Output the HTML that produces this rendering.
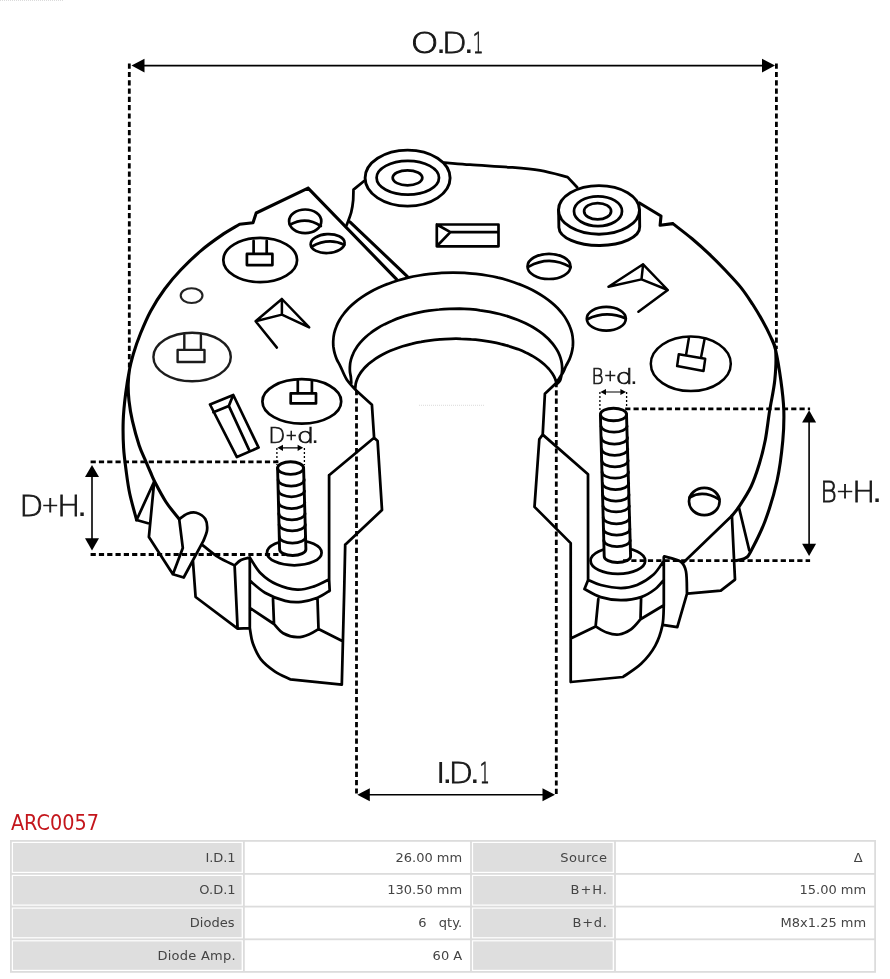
<!DOCTYPE html>
<html lang="en"><head><meta charset="utf-8"><title>ARC0057</title>
<style>
html,body{margin:0;padding:0;background:#fff}
svg{display:block;will-change:transform}
.m{fill:none;stroke:#000;stroke-width:2.75;stroke-linejoin:round;stroke-linecap:round}
.n{fill:none;stroke:#000;stroke-width:2.7;stroke-linejoin:round;stroke-linecap:round}
.w{fill:#fff;stroke:#000;stroke-width:2.9;stroke-linejoin:round}
.d{fill:none;stroke:#000;stroke-width:2.8;stroke-dasharray:5.2 3.1}
.ds{fill:none;stroke:#000;stroke-width:1.3;stroke-dasharray:2 2}
.a{fill:none;stroke:#000;stroke-width:1.6}
.lab{font-family:"DejaVu Sans Light","DejaVu Sans","Liberation Sans",sans-serif;font-weight:200;fill:#1a1a1a;stroke:#1a1a1a;stroke-width:.8}
.lab.s{stroke-width:.7}
.lb{font-family:"DejaVu Sans","Liberation Sans",sans-serif;fill:#1a1a1a}
.t{font-family:"DejaVu Sans","Liberation Sans",sans-serif;font-size:13px;fill:#444}
</style></head><body>
<svg width="890" height="979" viewBox="0 0 890 979">
<rect width="890" height="979" fill="#fff"/>
<defs><filter id="soft" x="0" y="0" width="890" height="810" filterUnits="userSpaceOnUse"><feGaussianBlur stdDeviation="0.4"/></filter></defs>
<g filter="url(#soft)">

<g class="m">
<path d="M148 523.2L136.6 520L154.2 481.5L148.9 537L172.9 574.3L183.7 577.5L203.5 540.7M179.2 519.1L182.8 547.9L172.9 574.3M179.2 519.1C180.5 518.2 184.5 514.8 187.3 513.7C190.2 512.7 193.3 511.9 196.3 512.8C199.3 513.7 203.5 516.2 205.3 519.1C207.1 522 207.4 526.3 207.1 529.9C206.8 533.5 204.1 538.9 203.5 540.7M201.7 544.3C204.4 546.4 212.4 553.4 217.9 556.9C223.4 560.4 231.8 564 234.6 565.4M234.6 565.4C235.7 564.5 238.5 561.3 241 560C243.5 558.7 248.3 557.9 249.8 557.5M234.6 565.4L237.6 628.7M192.9 560.4L195.6 597L237.6 628.7L249.8 628.1M249.8 557.5L249.8 628.1C250.3 630.6 251 638.1 252.8 643.3C254.7 648.5 257.2 654.7 260.9 659.4C264.6 664.1 270.1 668.3 275 671.6C279.9 674.9 287.7 678 290.2 679.3L341.8 684.7L344.2 590.7L345.2 544.7M249.8 557.5C251.7 560.2 256.3 569 260.9 573.5C265.4 578 271 581.9 277.1 584.6C283.2 587.3 291.2 589.4 297.3 589.7C303.4 590 308.3 588.3 313.5 586.6C318.7 584.9 326.2 580.8 328.7 579.6M249.8 580.6C252.3 582.6 259.1 589.3 265 592.7C270.9 596.1 279.1 599.3 285.2 600.8C291.3 602.3 296 602.3 301.4 601.8C306.8 601.3 312.8 599.6 317.5 597.8C322.2 595.9 327.7 591.9 329.7 590.7M329.1 475.2L329.1 579.6L329.7 590.7M273 598.8L274 624C275.5 625.5 279.3 631 283.2 633.2C287.1 635.4 292.9 637 297.3 637.2C301.7 637.4 305.9 635.6 309.4 634.2C312.9 632.9 317 630 318.5 629.1L317.5 598.8M249.8 607.9L274 624M318.5 629.1L342.8 641.2M356.2 390.5L371.9 404.7L374.1 437.7L377.6 440.9L382 510L345.2 544.7M374.1 437.7L329.1 475.2M556.5 382.7L544.9 393.7L542.7 434.6L539.3 439.3L534.5 506.9L570.7 543.1L570.7 682L622.9 677C625.9 674.8 635.7 669 641.1 663.8C646.5 658.6 651.8 652 655.3 645.6C658.8 639.2 661 632.1 662.4 625.4C663.8 618.7 663.6 608.6 663.8 605.2L663.8 557M542.7 434.6L588 474.3L588.1 579.9L584.5 589M588.1 579.9C590.2 580.8 595.2 583.6 600.7 585C606.2 586.4 614.8 588 620.9 588C627 588 631.7 587.2 637.1 585C642.5 582.8 648.8 578.8 653.3 574.8C657.8 570.8 662 563.1 663.8 560.7M584.5 589C587.2 590.4 594.6 595.2 600.7 597.1C606.8 599 614.2 600.1 620.9 600.1C627.6 600.1 635.4 599 641.1 597.1C646.8 595.2 651.5 591.9 655.3 589C659.1 586.1 662.4 581.4 663.8 579.9M598.3 599.1L595.6 626.4C597.5 627.4 602.8 631.1 606.7 632.5C610.6 633.9 614.9 635 618.9 634.5C622.9 634 627.4 631.9 631 629.4C634.6 626.9 638.9 621 640.5 619.3L641.1 598.1M570.7 638.5L595.6 626.4M640.5 619.3L663.8 605.2M356.2 390.5C354.6 388.7 349.3 383.5 346.7 379.5C344.1 375.5 342 369.5 340.4 366.3C338.8 363 338 362 337 359.9C336.1 357.7 335.3 355.5 334.7 353.3C334.1 351.1 333.7 348.9 333.4 346.7C333.2 344.4 333.1 342.2 333.3 340C333.4 337.7 333.7 335.5 334.2 333.3C334.7 331.1 335.4 328.9 336.3 326.7C337.1 324.5 338.2 322.4 339.4 320.3C340.6 318.1 342 316 343.6 314C345.1 312 346.9 310 348.7 308C350.6 306.1 352.7 304.2 354.9 302.4C357.1 300.5 359.4 298.8 361.9 297.1C364.4 295.4 367.1 293.7 369.8 292.2C372.6 290.6 375.5 289.2 378.5 287.8C381.5 286.4 384.6 285.1 387.8 283.9C391 282.6 394.3 281.5 397.7 280.5C401.1 279.5 404.6 278.5 408.2 277.7C411.7 276.8 415.4 276.1 419 275.5C422.7 274.8 426.5 274.3 430.2 273.9C434 273.5 437.8 273.1 441.6 272.9C445.4 272.7 449.3 272.6 453.1 272.6C456.9 272.6 460.8 272.7 464.6 272.9C468.4 273.1 472.2 273.5 476 273.9C479.7 274.3 483.5 274.8 487.2 275.5C490.8 276.1 494.5 276.8 498 277.7C501.6 278.5 505.1 279.5 508.5 280.5C511.9 281.5 515.2 282.6 518.4 283.9C521.6 285.1 524.7 286.4 527.7 287.8C530.7 289.2 533.6 290.6 536.4 292.2C539.1 293.7 541.8 295.4 544.3 297.1C546.8 298.8 549.1 300.5 551.3 302.4C553.5 304.2 555.6 306.1 557.5 308C559.3 310 561.1 312 562.6 314C564.2 316 565.6 318.1 566.8 320.3C568 322.4 569.1 324.5 569.9 326.7C570.8 328.9 571.5 331.1 572 333.3C572.5 335.5 572.8 337.7 572.9 340C573.1 342.2 573 344.4 572.8 346.7C572.5 348.9 572.1 351.1 571.5 353.3C570.9 355.5 570.1 357.7 569.2 359.9C568.2 362 566.7 364.3 565.8 366.3C564.8 368.2 565 368.8 563.5 371.5C562 374.2 557.7 380.8 556.5 382.7M351.3 383C351.2 382 351.1 378.8 350.8 376.8C350.6 374.8 350 373 349.9 371.1C349.8 369.1 349.8 367.2 350 365.3C350.1 363.3 350.5 361.4 351 359.5C351.5 357.6 352.2 355.7 353.1 353.8C353.9 351.9 354.9 350.1 356.1 348.3C357.2 346.4 358.5 344.7 360 342.9C361.5 341.2 363.1 339.5 364.9 337.8C366.6 336.1 368.5 334.5 370.6 333C372.6 331.4 374.8 329.9 377.1 328.5C379.4 327.1 381.8 325.7 384.3 324.4C386.9 323.1 389.5 321.8 392.3 320.7C395 319.5 397.8 318.4 400.8 317.4C403.7 316.4 406.7 315.5 409.8 314.7C412.9 313.8 416.1 313.1 419.3 312.4C422.5 311.7 425.8 311.1 429.1 310.6C432.4 310.2 435.8 309.8 439.2 309.5C442.6 309.1 446 308.9 449.4 308.8C452.8 308.7 456.3 308.7 459.7 308.7C463.1 308.8 466.6 309 470 309.2C473.4 309.5 476.8 309.8 480.1 310.3C483.4 310.7 486.7 311.2 490 311.8C493.2 312.5 496.4 313.2 499.6 314C502.7 314.8 505.8 315.6 508.7 316.6C511.7 317.6 514.6 318.6 517.4 319.7C520.2 320.8 522.9 322 525.5 323.3C528.1 324.6 530.6 325.9 533 327.3C535.3 328.7 537.6 330.2 539.7 331.7C541.8 333.2 543.8 334.8 545.6 336.4C547.5 338 549.2 339.7 550.7 341.5C552.3 343.2 553.7 344.9 554.9 346.7C556.2 348.5 557.3 350.4 558.2 352.2C559.1 354.1 559.9 356 560.5 357.9C561.1 359.8 561.6 361.7 561.8 363.6C562.1 365.6 562.2 367.5 562.2 369.4C562.1 371.4 561.9 373.3 561.5 375.2C561.1 377.1 560.7 379.4 559.9 380.9C559 382.4 557.1 383.7 556.5 384.3M355.2 389C355.3 388.2 355.4 385.6 355.7 383.9C356.1 382.2 356.6 380.5 357.3 378.9C357.9 377.2 358.8 375.6 359.8 374C360.8 372.3 362 370.7 363.4 369.2C364.7 367.6 366.2 366.1 367.9 364.6C369.5 363.1 371.3 361.7 373.3 360.3C375.2 358.9 377.3 357.6 379.5 356.3C381.7 355 384.1 353.7 386.5 352.6C389 351.4 391.6 350.3 394.3 349.3C397 348.2 399.8 347.2 402.7 346.3C405.6 345.4 408.6 344.6 411.6 343.9C414.7 343.1 417.8 342.4 421 341.9C424.2 341.3 427.4 340.8 430.7 340.3C434 339.9 437.4 339.6 440.7 339.3C444.1 339 447.5 338.9 450.9 338.8C454.3 338.7 457.7 338.7 461.1 338.8C464.5 338.8 467.9 339 471.3 339.3C474.7 339.5 478 339.9 481.3 340.3C484.6 340.7 487.9 341.2 491.1 341.8C494.3 342.4 497.4 343 500.5 343.8C503.5 344.5 506.5 345.4 509.4 346.3C512.3 347.1 515.1 348.1 517.8 349.1C520.5 350.2 523.1 351.3 525.6 352.5C528.1 353.6 530.4 354.9 532.7 356.1C534.9 357.4 537 358.8 538.9 360.1C540.9 361.5 542.7 363 544.4 364.5C546 365.9 547.5 367.5 548.9 369C550.2 370.6 551.4 372.2 552.5 373.8C553.5 375.4 554.4 377.1 555.1 378.7C555.8 380.4 556.4 382.9 556.6 383.7M364.4 180.8L353.5 189.6L353.2 200C353 202.1 352.3 208.2 351.2 212.4C350.1 216.6 347.3 223.2 346.5 225.4M444.4 162.6C448.7 162.9 459.1 163.9 470 164.7C480.9 165.5 498.3 166.4 510 167.3C521.7 168.2 530.4 168.8 540 170.4C549.6 172 563 176 567.6 177.1L577.1 187.2M731.9 515.8L682.4 563.4M739 507.8L749.3 550.5M731.9 515.8L735 579.6L720.8 590.7L687.4 593.7M664.2 556.3C666.9 557.1 676.7 558.9 680.3 561.4C683.9 563.9 684.9 566.1 686 571.5C687.1 576.9 686.8 590 687 593.7L677.3 627.1L664.2 625.1"/>
<path stroke-width="3.1" d="M308.1 188.1L256.2 213L253 222.8L239.6 224.3M239.6 224.3C236.6 226.2 227.8 231 221.4 235.4C215 239.8 207.8 244.9 201.1 250.6C194.3 256.3 187 263.4 180.9 269.8C174.8 276.2 169.8 282.1 164.7 289C159.6 295.9 154.6 303.8 150.6 311.2C146.6 318.6 143.4 326.4 140.5 333.5C137.6 340.6 135.2 347.8 133.4 353.7C131.6 359.6 130.5 363.9 129.6 369C128.7 374.1 128.3 378.7 128.2 384C128.1 389.3 128.3 394.6 129 400.7C129.7 406.8 130.7 413.5 132.4 420.9C134.1 428.3 136.9 438.5 139.1 445.2C141.3 451.9 143.9 456.8 145.8 461.3C147.7 465.8 148.9 468.6 150.4 472C151.9 475.4 152 476.5 154.6 481.5C157.2 486.5 161.9 495.7 166 502C170.1 508.3 177 516.2 179.2 519.1M133.4 353.7C132.8 356.2 130.9 362.3 129.6 369C128.3 375.7 126.7 385.4 125.6 394C124.5 402.6 123.5 411.9 123.2 420.9C122.9 429.9 123.1 439.4 123.6 447.9C124.1 456.4 125.3 464.3 126.3 472C127.3 479.7 128.1 486 129.8 494C131.5 502 135.5 515.7 136.6 520M308.1 188.1L396.4 279.1M349.9 221.8L407.2 276.4M639.5 203L661 216L660.1 225.3L672.8 223.6M672.8 223.6C676 226.1 686.1 233.8 692.1 238.8C698.1 243.9 703.4 248.6 709 253.9C714.6 259.2 720.5 265.2 725.8 270.8C731.1 276.4 736.5 282 741 287.6C745.5 293.2 749.1 298.9 752.8 304.5C756.4 310.1 759.9 316.1 762.9 321.4C765.9 326.7 768.4 331.7 770.5 336.5C772.6 341.3 774.9 342.8 775.6 350C776.3 357.2 775.8 369.9 774.8 380C773.8 390.1 771.3 400.3 769.7 410.3C768.1 420.3 767 431 765.3 440C763.5 449 761.6 456.6 759.2 464.3C756.8 472.1 754.5 479.4 751.1 486.5C747.7 493.6 742.2 501.8 739 506.7C735.8 511.6 733.1 514.3 731.9 515.8M770.5 336.5C771.4 338.8 773.9 342.8 775.6 350C777.3 357.2 779.4 369.9 780.8 380C782.2 390.1 783.5 400.2 783.8 410.3C784.1 420.4 783.9 428.9 782.8 440.7C781.7 452.5 780 467.6 777 481C774 494.4 769.4 509.4 765 521.2C760.6 533 753.8 545.8 750.5 551.9C747.2 558 747.8 556.5 745.4 558C743 559.5 737.8 560.2 736.3 560.6"/>
<ellipse cx="407.6" cy="178.1" rx="42.5" ry="28" class="w"/>
<ellipse cx="407.8" cy="177.8" rx="31.2" ry="16.9"/>
<ellipse cx="407.5" cy="177.8" rx="14.8" ry="7.5"/>
<path class="w" d="M558.6 209.9L558.9 227.4A40.4 18.4 0 0 0 639.7 226.8L639.5 209.9Z"/>
<ellipse cx="599" cy="209.9" rx="40.5" ry="24.3" class="w"/>
<ellipse cx="598" cy="211.2" rx="24" ry="14.9"/>
<ellipse cx="597.6" cy="211.2" rx="13.5" ry="8.2"/>
</g>
<g class="n">
<ellipse cx="260.2" cy="260" rx="36.9" ry="22.2"/>
<path d="M253.6 253.4V240.8M266.7 240.8V253.4"/><rect x="246.9" y="253.9" width="25.5" height="11.2"/>
<g stroke-width="2.4" stroke="#1c1c1c">
<ellipse cx="192.1" cy="357" rx="38.7" ry="24.3"/>
<path d="M184.3 349.4V334.7M200.9 334.7V349.4"/><rect x="177.6" y="349.9" width="26.9" height="12.1"/>
</g>
<ellipse cx="301.8" cy="401.4" rx="39.4" ry="22.2"/>
<path d="M297.8 393V381.1M311.9 381.1V393"/><rect x="290.7" y="393.3" width="25.3" height="10.1"/>
<g stroke-width="2.5">
<ellipse cx="690.8" cy="363.8" rx="40" ry="27.3"/>
<path d="M688.9 338L686.1 354.8M704.6 339.1L701.2 356.5M678.8 354.3L705.2 358.8L703.5 371.1L677.1 366.1Z"/>
</g>
<ellipse cx="305.2" cy="221.3" rx="16.1" ry="11.8"/><path d="M289.9 224.7Q306 215.8 320.9 226.1"/>
<ellipse cx="327.6" cy="243.6" rx="17" ry="9.4" transform="rotate(-3 327.6 243.6)"/><path d="M311.5 246.7Q329 237.2 344.3 244.9"/>
<ellipse cx="549" cy="266.4" rx="21.5" ry="12.6"/><path d="M528.8 266.6Q549.7 254.9 570.6 267.2"/>
<ellipse cx="606.3" cy="318.7" rx="19.5" ry="11.9"/><path d="M587.4 319.2Q606.3 310 625.8 318.5"/>
<ellipse cx="704.3" cy="501.5" rx="15.3" ry="13.6"/>
<path d="M689.6 497.5Q703 489.5 719.4 499.5"/>
<g stroke-width="2.5">
<path d="M255.6 321.3L281.9 299L309.2 327.4L281.9 314.6L255.6 321.3L276.9 347.6M281.9 299V314.6"/>
<path d="M608.5 286.8L643.1 264.3L667.8 290L641.5 279.4L608.5 286.8M643.1 264.3L641.5 279.4M667.8 290L638.4 311.8"/>
</g>
<path d="M436.8 224.5H498.5V246.3H436.8ZM436.8 224.5L450.4 232.1L436.8 246.3M450.4 232.1H498.5"/>
<path d="M210 404.5L233.3 395L258.6 447.6L236.9 457.1ZM213.4 412.2L228.8 405.9L249.4 450.6M228.8 405.9L232.9 395.8"/>
<g stroke-width="2.1" stroke="#222"><ellipse cx="191.6" cy="295.6" rx="10.9" ry="7.4"/></g>
</g>
<g class="m">
<ellipse cx="294.3" cy="552.7" rx="27.3" ry="12.6"/>
<path class="w" d="M277.6 468.1L279.6 549.2A13.1 6.3 0 0 0 305.9 549.2L303.6 468.1Z"/><ellipse cx="290.6" cy="468.1" rx="13" ry="6.3" class="w"/><path d="M278.1 479.7A13 6.3 0 0 0 304.2 479.7"/><path d="M278.4 491A13.1 6.3 0 0 0 304.5 491"/><path d="M278.6 502.4A13.1 6.3 0 0 0 304.8 502.4"/><path d="M278.8 513.5A13.1 6.3 0 0 0 305 513.5"/><path d="M279.1 524.5A13.1 6.3 0 0 0 305.3 524.5"/><path d="M279.3 536.7A13.1 6.3 0 0 0 305.6 536.7"/>
<ellipse cx="617.9" cy="560.7" rx="27.3" ry="13.1"/>
<path class="w" d="M600.4 414.5L604.2 556.2A13.2 6.3 0 0 0 630.6 556.2L626.5 414.5Z"/><ellipse cx="613.5" cy="414.5" rx="13.1" ry="6.3" class="w"/><path d="M601 426.3A13.1 6.3 0 0 0 627.1 426.3"/><path d="M601.3 437.7A13.1 6.3 0 0 0 627.5 437.7"/><path d="M601.6 449.1A13.1 6.3 0 0 0 627.8 449.1"/><path d="M601.8 460.5A13.1 6.3 0 0 0 628.1 460.5"/><path d="M602.1 471.9A13.1 6.3 0 0 0 628.4 471.9"/><path d="M602.4 483.3A13.1 6.3 0 0 0 628.7 483.3"/><path d="M602.7 494.7A13.1 6.3 0 0 0 629 494.7"/><path d="M603 506.1A13.2 6.3 0 0 0 629.3 506.1"/><path d="M603.2 517.5A13.2 6.3 0 0 0 629.6 517.5"/><path d="M603.5 528.9A13.2 6.3 0 0 0 629.9 528.9"/><path d="M603.8 540.3A13.2 6.3 0 0 0 630.2 540.3"/>
</g>
<path d="M419 405.3H485M0 .5H64" stroke="#ccc" stroke-width="0.7" stroke-dasharray="1 1" fill="none"/>
<g class="d">
<path d="M129.3 63.6V369M776.4 63.6V349M356.5 390V796M556.3 382V796"/>
<path d="M90.6 461.9H280.6M90.6 554.5H285.2M625.2 408.9H810.1M623 560.6H810.1"/>
</g>
<g class="ds"><path d="M276.9 447.9V465M304.4 447.9V465M599.9 392V410.6M626.6 392V410.6"/></g>
<g class="a">
<path d="M140 65.6H768M92 474V541M809.1 420V546M366 794.7H546"/>
<path stroke-width="1.2" d="M280 447.8H300M603 392H623"/>
</g>
<g fill="#000">
<path d="M131.5 65.6L144.5 58.8L144.5 72.4Z"/>
<path d="M775 65.6L762 72.4L762 58.8Z"/>
<path d="M357.3 794.7L369.8 788.2L369.8 801.2Z"/>
<path d="M555 794.7L542.5 801.2L542.5 788.2Z"/>
<path d="M92 464.9L99 477.1L85 477.1Z"/>
<path d="M92 550.5L85 538.3L99 538.3Z"/>
<path d="M809.1 410.3L816.1 422.5L802.1 422.5Z"/>
<path d="M809.1 556L802.1 543.8L816.1 543.8Z"/>
<path d="M277.4 447.8L283 444.7L283 450.9Z"/>
<path d="M303.2 447.8L297.6 450.9L297.6 444.7Z"/>
<path d="M600.4 392L606 388.9L606 395.1Z"/>
<path d="M626 392L620.4 395.1L620.4 388.9Z"/>
</g>
<text class="lab" transform="translate(410.6 53) scale(1.233 1)" font-size="29.1">O</text><text class="lb" transform="translate(435.8 53) scale(1.150 1)" font-size="29.1">.</text><text class="lab" transform="translate(441.8 53) scale(1.125 1)" font-size="29.1">D</text><text class="lb" transform="translate(463.6 53) scale(1.150 1)" font-size="29.1">.</text><text class="lab" transform="translate(472.7 53) scale(0.579 1)" font-size="29.1">1</text>
<text class="lb" transform="translate(436.6 783) scale(0.975 1)" font-size="29.1">I</text><text class="lb" transform="translate(442 783) scale(1.150 1)" font-size="29.1">.</text><text class="lab" transform="translate(448.5 783) scale(1.101 1)" font-size="29.1">D</text><text class="lb" transform="translate(469.5 783) scale(1.150 1)" font-size="29.1">.</text><text class="lab" transform="translate(479.7 783) scale(0.537 1)" font-size="29.1">1</text>
<text class="lab" transform="translate(19.2 515.7) scale(1.077 1)" font-size="29.1">D</text><text class="lab" transform="translate(41.5 511.7) scale(1.000 1)" font-size="20.9" stroke-width="1.3">+</text><text class="lab" transform="translate(57 515.7) scale(1.072 1)" font-size="29.1">H</text><text class="lb" transform="translate(76.7 515.7) scale(1.150 1)" font-size="29.1">.</text>
<text class="lab" transform="translate(820.3 501.6) scale(0.874 1)" font-size="29.1">B</text><text class="lab" transform="translate(836 497.8) scale(1.000 1)" font-size="21.6" stroke-width="1.3">+</text><text class="lab" transform="translate(852 501.6) scale(1.072 1)" font-size="29.1">H</text><text class="lb" transform="translate(871.7 501.6) scale(1.150 1)" font-size="29.1">.</text>
<text class="lab s" transform="translate(268.2 443) scale(1.052 1)" font-size="21.2">D</text><text class="lab s" transform="translate(285.4 439.6) scale(1.000 1)" font-size="13.7" stroke-width="1.2">+</text><text class="lab s" transform="translate(296.8 443) scale(1.305 1)" font-size="21.2">d</text><text class="lb" transform="translate(311.2 443) scale(1.150 1)" font-size="21.2">.</text>
<text class="lab s" transform="translate(591.4 384.3) scale(0.874 1)" font-size="21.2">B</text><text class="lab s" transform="translate(603.9 381.3) scale(1.000 1)" font-size="15" stroke-width="1.2">+</text><text class="lab s" transform="translate(615.5 384.3) scale(1.305 1)" font-size="21.2">d</text><text class="lb" transform="translate(630.1 384.3) scale(1.150 1)" font-size="21.2">.</text>
</g>
<text transform="translate(10.9 830) scale(.935 1)" font-family="DejaVu Sans,Liberation Sans,sans-serif" font-size="20.6" fill="#c4161c">ARC0057</text>
<rect x="10" y="840" width="866" height="132.79999999999995" fill="#dcdcdc"/>
<rect x="11.8" y="841.8" width="231.2" height="31.2" fill="#fff"/>
<rect x="13" y="843" width="228.6" height="28.8" fill="#dedede"/>
<rect x="244.8" y="841.8" width="225.3" height="31.2" fill="#fff"/>
<rect x="471.9" y="841.8" width="142.2" height="31.2" fill="#fff"/>
<rect x="473.1" y="843" width="139.6" height="28.8" fill="#dedede"/>
<rect x="615.9" y="841.8" width="258.3" height="31.2" fill="#fff"/>
<rect x="11.8" y="874.8" width="231.2" height="30.9" fill="#fff"/>
<rect x="13" y="876" width="228.6" height="28.5" fill="#dedede"/>
<rect x="244.8" y="874.8" width="225.3" height="30.9" fill="#fff"/>
<rect x="471.9" y="874.8" width="142.2" height="30.9" fill="#fff"/>
<rect x="473.1" y="876" width="139.6" height="28.5" fill="#dedede"/>
<rect x="615.9" y="874.8" width="258.3" height="30.9" fill="#fff"/>
<rect x="11.8" y="907.5" width="231.2" height="30.9" fill="#fff"/>
<rect x="13" y="908.7" width="228.6" height="28.5" fill="#dedede"/>
<rect x="244.8" y="907.5" width="225.3" height="30.9" fill="#fff"/>
<rect x="471.9" y="907.5" width="142.2" height="30.9" fill="#fff"/>
<rect x="473.1" y="908.7" width="139.6" height="28.5" fill="#dedede"/>
<rect x="615.9" y="907.5" width="258.3" height="30.9" fill="#fff"/>
<rect x="11.8" y="940.2" width="231.2" height="30.8" fill="#fff"/>
<rect x="13" y="941.4" width="228.6" height="28.4" fill="#dedede"/>
<rect x="244.8" y="940.2" width="225.3" height="30.8" fill="#fff"/>
<rect x="471.9" y="940.2" width="142.2" height="30.8" fill="#fff"/>
<rect x="473.1" y="941.4" width="139.6" height="28.4" fill="#dedede"/>
<rect x="615.9" y="940.2" width="258.3" height="30.8" fill="#fff"/>
<text class="t" text-anchor="end" x="235.6" y="861.7" font-size="13.2" textLength="30.1" xml:space="preserve">I.D.1</text>
<text class="t" text-anchor="end" x="462.2" y="861.7" xml:space="preserve">26.00 mm</text>
<text class="t" text-anchor="end" x="606.9" y="861.7" font-size="13.2" textLength="46.6" xml:space="preserve">Source</text>
<text class="t" text-anchor="end" x="862.6" y="861.7" xml:space="preserve">Δ</text>
<text class="t" text-anchor="end" x="235.6" y="894.4" font-size="13.2" textLength="36.3" xml:space="preserve">O.D.1</text>
<text class="t" text-anchor="end" x="462.2" y="894.4" xml:space="preserve">130.50 mm</text>
<text class="t" text-anchor="end" x="606.9" y="894.4" font-size="13.2" textLength="36.3" xml:space="preserve">B+H.</text>
<text class="t" text-anchor="end" x="866.2" y="894.4" xml:space="preserve">15.00 mm</text>
<text class="t" text-anchor="end" x="234.6" y="927.1" font-size="13.2" textLength="44.8" xml:space="preserve">Diodes</text>
<text class="t" text-anchor="end" x="462.2" y="927.1" xml:space="preserve">6   qty.</text>
<text class="t" text-anchor="end" x="606.9" y="927.1" font-size="13.2" textLength="34.3" xml:space="preserve">B+d.</text>
<text class="t" text-anchor="end" x="866.2" y="927.1" xml:space="preserve">M8x1.25 mm</text>
<text class="t" text-anchor="end" x="235.6" y="959.8" font-size="13.2" textLength="78.1" xml:space="preserve">Diode Amp.</text>
<text class="t" text-anchor="end" x="462.2" y="959.8" xml:space="preserve">60 A</text>
</svg>
</body></html>
